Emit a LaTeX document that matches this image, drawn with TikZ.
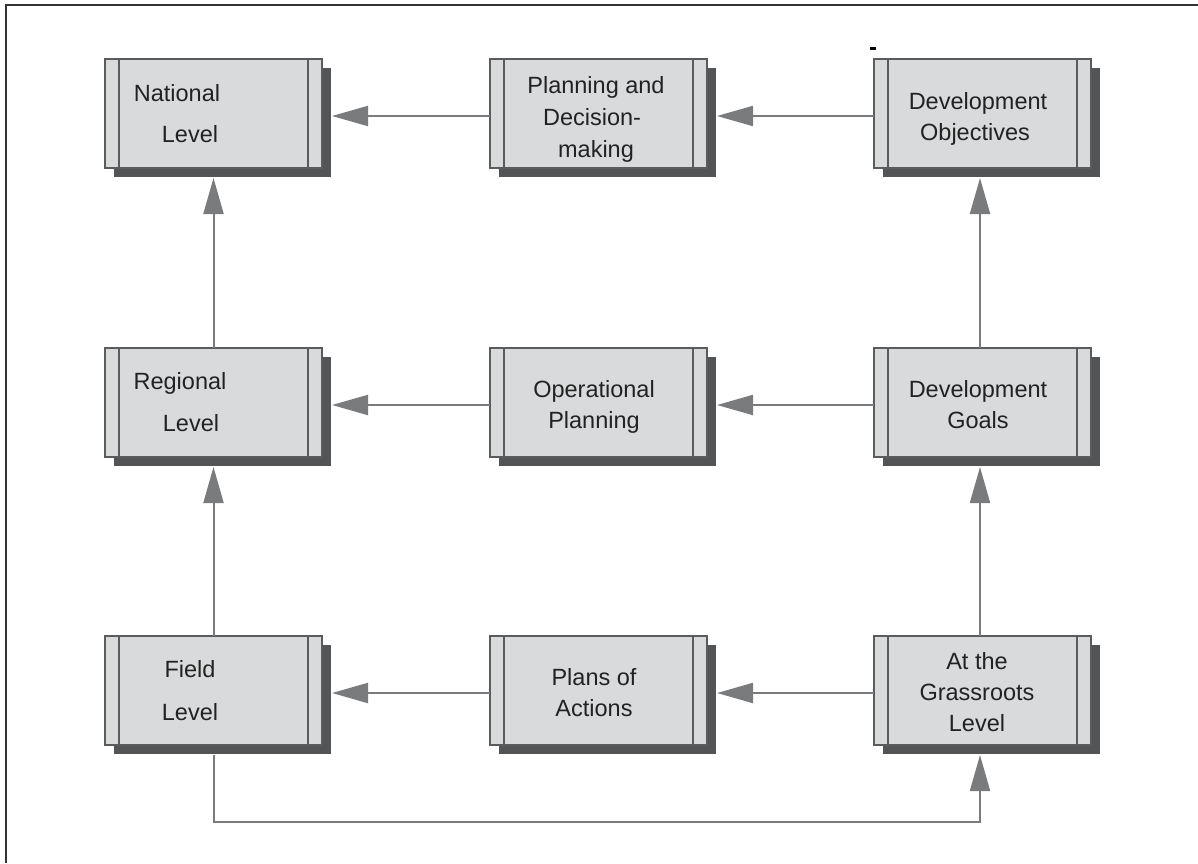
\documentclass[tikz,border=0pt]{standalone}
\usepackage{fontspec}
\setmainfont{Liberation Sans}
\usetikzlibrary{arrows.meta,shadows}
\definecolor{boxfill}{HTML}{D9DADB}
\definecolor{boxline}{HTML}{5A5B5D}
\definecolor{shadowcol}{HTML}{535456}
\definecolor{arrcol}{HTML}{7A7B7D}
\definecolor{txtcol}{HTML}{222222}
\begin{document}
\begin{tikzpicture}[x=1pt,y=-1pt,
  box/.style={draw=boxline, line width=2.4pt, fill=boxfill,
    minimum width=217pt, minimum height=109pt, inner sep=0pt, outer sep=0pt,
    drop shadow={shadow xshift=9pt, shadow yshift=-9pt, fill=shadowcol, opacity=1},
    path picture={
      \draw[boxline, line width=2.4pt]
        ([xshift=14pt]path picture bounding box.north west) -- ([xshift=14pt]path picture bounding box.south west)
        ([xshift=-14pt]path picture bounding box.north east) -- ([xshift=-14pt]path picture bounding box.south east);
    }},
  txt/.style={font=\fontsize{23.5}{28}\selectfont, text=txtcol, inner sep=0pt, text height=17pt, text depth=0pt},
  arr/.style={draw=arrcol, line width=2pt, -{Triangle[length=36pt,width=20pt]}, arrcol},
  link/.style={draw=arrcol, line width=2pt}
]
\useasboundingbox (0,0) rectangle (1198,863);
% frame (top and left)
\draw[line width=1.6pt, color=black!80] (6,863) -- (6,5) -- (1198,5);
% stray mark
\fill[black] (870,47) rectangle (876,49.5);

% boxes
\node[box] (nat)   at (213.5,113.5) {};
\node[box] (plan)  at (598.5,113.5) {};
\node[box] (obj)   at (982.5,113.5) {};
\node[box] (reg)   at (213.5,402.5) {};
\node[box] (oper)  at (598.5,402.5) {};
\node[box] (goals) at (982.5,402.5) {};
\node[box] (field) at (213.5,690.5) {};
\node[box] (plans) at (598.5,690.5) {};
\node[box] (grass) at (982.5,690.5) {};

% texts
\node[txt] (t-nat1) at (177,93) {National};
\node[txt] (t-nat2) at (190,134) {Level};
\node[txt] (t-plan1) at (596,85) {Planning and};
\node[txt] (t-plan2) at (592,117) {Decision-};
\node[txt] (t-plan3) at (596,149) {making};
\node[txt] (t-obj1) at (978,101) {Development};
\node[txt] (t-obj2) at (975,132) {Objectives};
\node[txt] (t-reg1) at (180,381) {Regional};
\node[txt] (t-reg2) at (191,423) {Level};
\node[txt] (t-oper1) at (594,389) {Operational};
\node[txt] (t-oper2) at (594,420) {Planning};
\node[txt] (t-goals1) at (978,389) {Development};
\node[txt] (t-goals2) at (978,420) {Goals};
\node[txt] (t-field1) at (190,669) {Field};
\node[txt] (t-field2) at (190,712) {Level};
\node[txt] (t-plans1) at (594,677) {Plans of};
\node[txt] (t-plans2) at (594,708) {Actions};
\node[txt] (t-grass1) at (977,661) {At the};
\node[txt] (t-grass2) at (977,692) {Grassroots};
\node[txt] (t-grass3) at (977,723) {Level};

% horizontal arrows
\draw[arr] ([yshift=-2.5pt]plan.west) -- ([xshift=10pt,yshift=-2.5pt]nat.east);
\draw[arr] ([yshift=-2.5pt]obj.west) -- ([xshift=10pt,yshift=-2.5pt]plan.east);
\draw[arr] ([yshift=-2.5pt]oper.west) -- ([xshift=10pt,yshift=-2.5pt]reg.east);
\draw[arr] ([yshift=-2.5pt]goals.west) -- ([xshift=10pt,yshift=-2.5pt]oper.east);
\draw[arr] ([yshift=-2.5pt]plans.west) -- ([xshift=10pt,yshift=-2.5pt]field.east);
\draw[arr] ([yshift=-2.5pt]grass.west) -- ([xshift=10pt,yshift=-2.5pt]plans.east);

% vertical arrows
\draw[arr] (reg.north) -- ([yshift=-10pt]nat.south);
\draw[arr] (field.north) -- ([yshift=-10pt]reg.south);
\draw[arr] ([xshift=-2.5pt]goals.north) -- ([xshift=-2.5pt,yshift=-10pt]obj.south);
\draw[arr] ([xshift=-2.5pt]grass.north) -- ([xshift=-2.5pt,yshift=-10pt]goals.south);

% bottom loop
\coordinate (low) at (0,822);
\draw[arr] ([yshift=-10pt]field.south) -- (field.south |- low) -| ([xshift=-2.5pt,yshift=-10pt]grass.south);
\end{tikzpicture}
\end{document}
